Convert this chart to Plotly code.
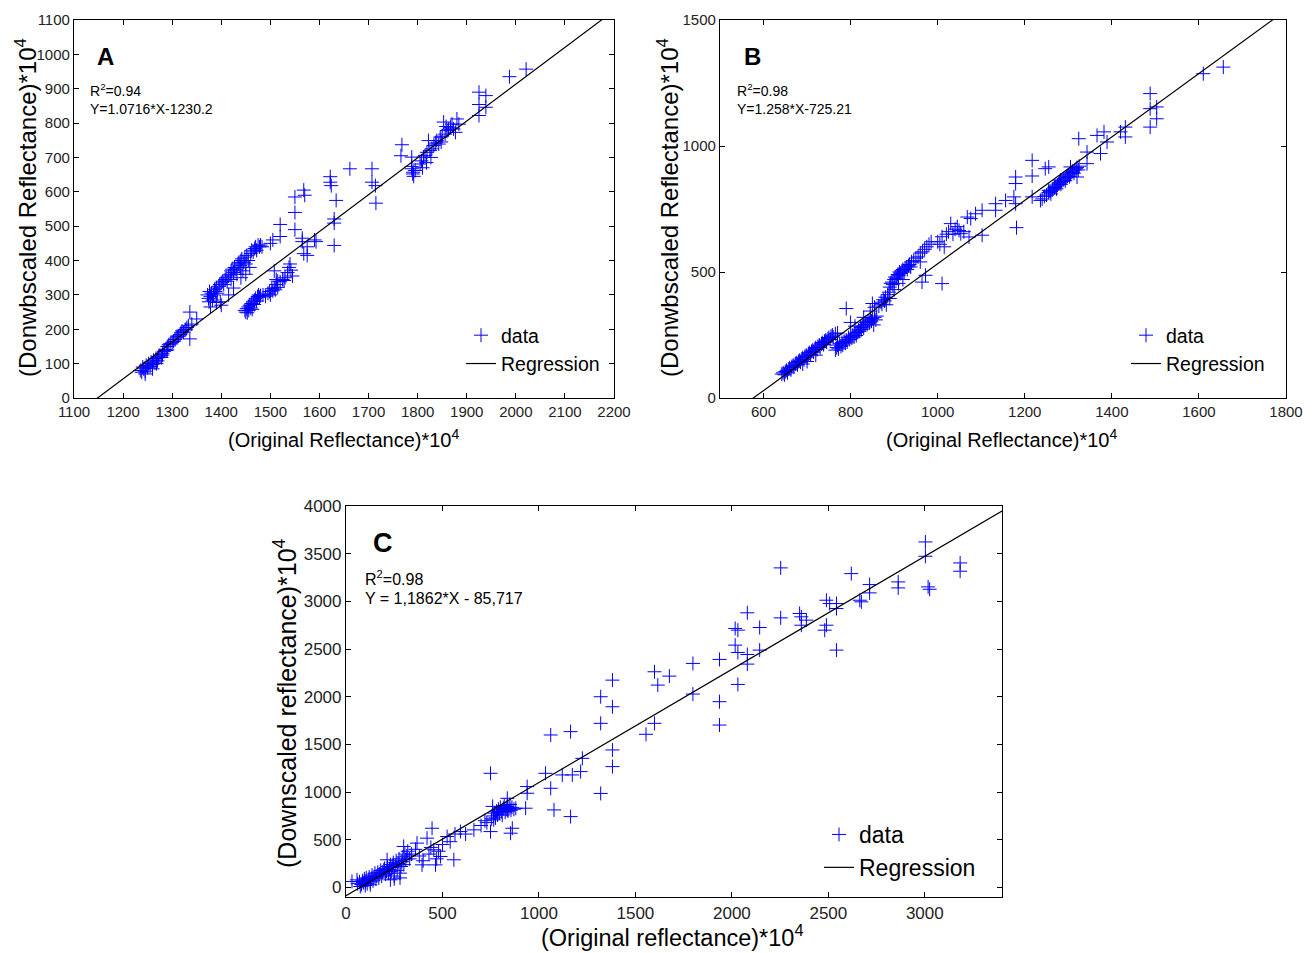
import plotly.graph_objects as go
import numpy as np

W, H = 1314, 953

# ---------------- data ----------------
# Panel A: (Original, Downscaled) reflectance *1e4
a_points = [
    (1235, 80), (1238, 75), (1240, 90), (1242, 85), (1245, 78), (1247, 95), (1250, 88), (1252, 100),
    (1255, 92), (1257, 105), (1260, 98), (1262, 110), (1265, 102), (1267, 115), (1270, 108), (1272, 120),
    (1275, 125), (1278, 118), (1280, 130), (1283, 135), (1285, 140), (1288, 138), (1290, 150), (1293, 155),
    (1296, 158), (1300, 162), (1303, 165), (1306, 170), (1310, 175), (1313, 180), (1316, 185), (1318, 190),
    (1320, 195), (1323, 192), (1326, 198), (1328, 200), (1330, 205), (1333, 210), (1336, 250), (1336, 172),
    (1340, 215), (1350, 230), (1245, 70), (1260, 85), (1280, 125), (1268, 100), (1290, 140), (1310, 180),
    (1372, 300), (1374, 290), (1375, 280), (1376, 310), (1378, 295), (1380, 305), (1382, 285), (1384, 300),
    (1386, 315), (1388, 310), (1390, 320), (1392, 305), (1395, 325), (1397, 330), (1400, 335), (1398, 280),
    (1400, 270), (1403, 340), (1405, 330), (1408, 345), (1410, 350), (1412, 340), (1415, 355), (1418, 360),
    (1420, 370), (1420, 345), (1422, 375), (1425, 365), (1425, 320), (1427, 380), (1430, 375), (1432, 360),
    (1434, 390), (1436, 395), (1438, 385), (1440, 400), (1440, 380), (1442, 405), (1444, 370), (1446, 395),
    (1448, 410), (1450, 390), (1450, 360), (1452, 415), (1455, 400), (1458, 380), (1460, 420), (1462, 430),
    (1465, 425), (1468, 435), (1470, 440), (1472, 430), (1475, 445), (1478, 440), (1480, 445), (1483, 440),
    (1378, 265), (1390, 278), (1415, 300), (1440, 350),
    (1448, 255), (1450, 250), (1452, 260), (1453, 248), (1455, 265), (1456, 255), (1458, 270), (1460, 262),
    (1462, 275), (1463, 258), (1465, 280), (1467, 272), (1468, 285), (1470, 290), (1472, 282), (1474, 295),
    (1476, 300), (1478, 293), (1480, 298), (1485, 300), (1490, 296), (1495, 305), (1498, 310), (1500, 300),
    (1503, 318), (1505, 312), (1508, 320), (1510, 315), (1512, 330), (1515, 322), (1515, 340), (1520, 338),
    (1525, 345), (1530, 350), (1535, 365), (1538, 380), (1540, 390), (1542, 372), (1545, 355), (1528, 342),
    (1508, 370), (1512, 345),
    (1500, 450), (1505, 460), (1520, 505), (1520, 470), (1550, 585), (1550, 540), (1550, 490), (1568, 605),
    (1570, 590), (1565, 465), (1568, 420), (1575, 440), (1575, 415), (1590, 460), (1593, 455), (1565, 455),
    (1622, 644), (1622, 628), (1624, 618), (1634, 575), (1630, 521), (1630, 509), (1630, 444), (1662, 667),
    (1707, 667), (1707, 628), (1714, 618), (1715, 567), (1768, 737), (1766, 705), (1788, 701), (1788, 667),
    (1791, 657), (1790, 652), (1788, 674), (1795, 662), (1792, 645),
    (1805, 681), (1812, 701), (1819, 715), (1822, 749), (1829, 725), (1833, 735), (1839, 749), (1843, 739),
    (1846, 759), (1853, 803), (1856, 768), (1860, 778), (1867, 788), (1870, 797), (1873, 783), (1880, 812),
    (1884, 797), (1877, 773), (1808, 690), (1815, 706), (1825, 720), (1836, 742), (1850, 762), (1863, 782),
    (1810, 670), (1818, 685), (1827, 700), (1848, 745), (1858, 790),
    (1925, 890), (1925, 854), (1925, 822), (1939, 880), (1939, 846), (1987, 935), (2021, 957),
]

# Panel B
b_points = [
    (642, 95), (645, 100), (648, 92), (650, 105), (653, 110), (655, 100), (658, 115), (660, 120),
    (663, 112), (665, 125), (668, 130), (670, 122), (673, 135), (675, 140), (678, 132), (680, 145),
    (683, 150), (685, 142), (688, 155), (690, 160), (693, 152), (695, 165), (698, 170), (700, 162),
    (703, 175), (705, 180), (708, 172), (710, 185), (713, 190), (715, 182), (718, 195), (720, 200),
    (723, 192), (725, 205), (728, 210), (730, 200), (733, 215), (735, 220), (738, 212), (740, 225),
    (743, 230), (745, 222), (748, 235), (750, 240), (753, 232), (755, 245), (758, 250), (760, 242),
    (765, 255), (770, 258), (700, 145), (720, 170), (690, 135),
    (765, 190), (768, 200), (770, 210), (772, 195), (775, 215), (778, 205), (780, 220), (782, 210),
    (785, 225), (788, 218), (790, 230), (792, 222), (795, 240), (798, 232), (800, 245), (803, 238),
    (805, 250), (808, 242), (810, 255), (813, 248), (815, 260), (818, 270), (820, 265), (823, 280),
    (825, 272), (828, 285), (830, 278), (833, 290), (835, 300), (838, 292), (840, 305), (843, 298),
    (845, 310), (848, 305), (850, 315), (853, 290), (855, 320), (858, 310), (860, 325), (790, 355),
    (800, 300), (810, 285), (830, 320), (845, 345), (850, 375), (855, 360),
    (865, 365), (870, 380), (872, 372), (875, 390), (878, 385), (880, 400), (882, 370), (885, 410),
    (888, 420), (890, 440), (892, 455), (895, 460), (897, 450), (900, 470), (902, 480), (905, 475),
    (908, 490), (910, 485), (912, 500), (915, 495), (918, 505), (920, 510), (923, 500), (925, 515),
    (928, 520), (930, 510), (933, 525), (935, 530), (938, 520), (940, 540), (945, 545), (950, 555),
    (955, 560), (960, 575), (965, 580), (970, 590), (975, 600), (980, 610), (985, 620), (890, 395),
    (900, 430), (910, 455), (920, 470), (960, 540), (964, 460), (972, 487), (1010, 454), (1000, 620),
    (1005, 610),
    (1010, 640), (1015, 600), (1020, 650), (1025, 660), (1030, 692), (1035, 650), (1040, 670), (1045, 680),
    (1049, 665), (1053, 652), (1060, 660), (1068, 718), (1072, 639), (1076, 712), (1087, 731), (1102, 646),
    (1102, 745), (1133, 771), (1133, 745), (1156, 784), (1175, 798), (1179, 877), (1179, 851), (1179, 771),
    (1181, 676), (1217, 943), (1217, 881), (1217, 798), (1247, 910), (1255, 917), (1236, 784), (1255, 824),
    (1282, 864), (1305, 917), (1324, 1029), (1320, 877), (1343, 976), (1343, 930), (1366, 1042),
    (1382, 1056), (1374, 970), (1389, 1016), (1420, 1056), (1431, 1075), (1431, 1036), (1488, 1208),
    (1488, 1148), (1488, 1075), (1503, 1155), (1503, 1108), (1610, 1287), (1656, 1313),
    (1240, 790), (1245, 800), (1250, 805), (1255, 815), (1258, 820), (1260, 810), (1263, 825), (1265, 830),
    (1268, 835), (1270, 840), (1273, 830), (1275, 845), (1278, 850), (1280, 855), (1283, 848), (1285, 860),
    (1288, 865), (1290, 870), (1293, 862), (1295, 875), (1298, 880), (1300, 885), (1303, 878), (1305, 890),
    (1308, 895), (1310, 900), (1313, 892), (1315, 905), (1318, 910), (1320, 915), (1323, 905), (1325, 920),
]

# Panel C
c_points = [
    (31, 63), (57, 80), (60, 40), (70, 60), (74, 10), (80, 30), (85, 70), (90, 50), (95, 90), (100, 20),
    (100, 60), (105, 100), (110, 40), (115, 80), (120, 110), (125, 60), (126, 28), (130, 90), (135, 130),
    (140, 70), (145, 110), (150, 150), (155, 90), (160, 120), (165, 160), (170, 100), (175, 140), (180, 180),
    (185, 120), (190, 160), (196, 185), (200, 200), (205, 140), (210, 170), (213, 290), (215, 220), (220, 150),
    (225, 190), (230, 240), (235, 170), (240, 210), (245, 260), (250, 120), (255, 230), (260, 280), (265, 180),
    (270, 250), (275, 300), (280, 100), (285, 220), (290, 270), (295, 320), (300, 240), (305, 350), (310, 290),
    (315, 330), (320, 380), (299, 430), (280, 150), (250, 90), (230, 80), (330, 300), (340, 350), (360, 400),
    (368, 465), (380, 330), (394, 237), (400, 280), (420, 517), (430, 350), (440, 420), (446, 621), (455, 395),
    (464, 237), (470, 300), (480, 380), (490, 325), (500, 450), (524, 534), (540, 480), (559, 290), (565, 560),
    (593, 586), (620, 560), (663, 604), (700, 650), (720, 700), (730, 680), (749, 586), (749, 1197), (755, 720),
    (760, 850), (765, 750), (766, 709), (770, 780), (775, 730), (780, 800), (785, 760), (790, 820), (795, 780),
    (800, 840), (805, 800), (810, 760), (815, 830), (820, 860), (825, 790), (830, 820), (835, 850), (836, 813),
    (840, 800), (845, 830), (850, 870), (853, 569), (855, 810), (860, 840), (862, 621), (836, 935), (870, 820),
    (880, 830), (931, 831), (939, 988), (939, 1058), (1034, 1197), (1061, 1599), (1061, 1040), (1078, 813),
    (1121, 1180), (1164, 1634), (1164, 743), (1173, 1180), (1216, 1215), (1225, 1354), (1320, 2000),
    (1320, 1721), (1320, 986), (1381, 2174), (1381, 1895), (1381, 1442), (1381, 1267),
    (1555, 1606), (1599, 1721), (1599, 2262), (1616, 2122), (1676, 2216), (1798, 2349), (1798, 2028),
    (1936, 2391), (1936, 1948), (1936, 1703), (2017, 2716), (2031, 2698), (2017, 2541), (2031, 2464),
    (2031, 2129), (2080, 2880), (2080, 2443), (2080, 2342), (2144, 2726), (2144, 2489), (2253, 3351),
    (2253, 2827), (2351, 2873), (2360, 2838), (2360, 2750), (2386, 2803), (2481, 2698), (2490, 2750),
    (2490, 3012), (2507, 2977), (2542, 2977), (2542, 2925), (2542, 2489), (2619, 3291), (2663, 3012),
    (2671, 2995), (2714, 3176), (2714, 3089), (2862, 3204), (2862, 3141), (3003, 3623), (3003, 3473),
    (3017, 3152), (3025, 3127), (3183, 3403), (3183, 3316),
]

# regression (slope, intercept) as printed on the chart
reg_a = (1.0716, -1230.2)
reg_b = (1.258, -725.21)
reg_c = (1.1862, -85.717)

labels = ["A", "B", "C"]
stat_text_a = ["R<sup>2</sup>=0.94", "Y=1.0716*X-1230.2"]
stat_text_b = ["R<sup>2</sup>=0.98", "Y=1.258*X-725.21"]
stat_text_c = ["R<sup>2</sup>=0.98", "Y = 1,1862*X - 85,717"]

xrange_a, yrange_a = [1100, 2200], [0, 1100]
xrange_b, yrange_b = [500, 1800], [0, 1500]
xrange_c, yrange_c = [0, 3400], [-100, 4000]

# ---------------- layout helpers ----------------
def px(x):
    return x / W

def py(y):
    return 1 - y / H

SANS = "Liberation Sans, Arial"

fig = go.Figure()

panels = [
    dict(pts=a_points, reg=reg_a, xr=xrange_a, yr=yrange_a, xa="x", ya="y", leg="legend",
         dom_x=[px(74), px(614)], dom_y=[py(398), py(20)]),
    dict(pts=b_points, reg=reg_b, xr=xrange_b, yr=yrange_b, xa="x2", ya="y2", leg="legend2",
         dom_x=[px(720), px(1286)], dom_y=[py(398), py(20)]),
    dict(pts=c_points, reg=reg_c, xr=xrange_c, yr=yrange_c, xa="x3", ya="y3", leg="legend3",
         dom_x=[px(346), px(1002)], dom_y=[py(897), py(506)]),
]

for p in panels:
    xs = [q[0] for q in p["pts"]]
    ys = [q[1] for q in p["pts"]]
    fig.add_trace(go.Scatter(
        x=xs, y=ys, mode="markers", name="data", xaxis=p["xa"], yaxis=p["ya"], legend=p["leg"],
        marker=dict(symbol="cross-thin", size=10, color="#0000FF",
                    line=dict(color="#0000FF", width=1)),
    ))
    m, c = p["reg"]
    lx = np.array(p["xr"], dtype=float)
    fig.add_trace(go.Scatter(
        x=lx, y=m * lx + c, mode="lines", name="Regression", xaxis=p["xa"], yaxis=p["ya"],
        legend=p["leg"], line=dict(color="black", width=1.2),
    ))

def axis(domain, rng, anchor, dtick, tick0, fontsize):
    return dict(domain=domain, range=rng, anchor=anchor, dtick=dtick, tick0=tick0, automargin=False,
                showgrid=False, zeroline=False, showline=True, linecolor="black", linewidth=1.2,
                mirror="ticks", ticks="inside", ticklen=5, tickcolor="black", tickwidth=1,
                tickfont=dict(family=SANS, size=fontsize, color="#222222"))

fig.update_layout(
    width=W, height=H, margin=dict(l=0, r=0, t=0, b=0, autoexpand=False),
    paper_bgcolor="white", plot_bgcolor="white",
    xaxis=axis(panels[0]["dom_x"], xrange_a, "y", 100, 1100, 15),
    yaxis=axis(panels[0]["dom_y"], yrange_a, "x", 100, 0, 15),
    xaxis2=axis(panels[1]["dom_x"], xrange_b, "y2", 200, 600, 15),
    yaxis2=axis(panels[1]["dom_y"], yrange_b, "x2", 500, 0, 15),
    xaxis3=axis(panels[2]["dom_x"], xrange_c, "y3", 500, 0, 17),
    yaxis3=axis(panels[2]["dom_y"], yrange_c, "x3", 500, 0, 17),
)

leg_common = dict(bgcolor="rgba(0,0,0,0)", borderwidth=0, tracegroupgap=0,
                  xanchor="left", yanchor="top", itemwidth=30)
fig.update_layout(
    legend=dict(x=px(461), y=py(316), font=dict(family=SANS, size=19.5, color="black"), **leg_common),
    legend2=dict(x=px(1126), y=py(316), font=dict(family=SANS, size=19.5, color="black"), **leg_common),
    legend3=dict(x=px(819), y=py(813), font=dict(family=SANS, size=23, color="black"), **leg_common),
)

ann = []
def text(x, y, s, size, angle=0, bold=False, xanchor="center"):
    if bold:
        s = "<b>" + s + "</b>"
    ann.append(dict(x=px(x), y=py(y), xref="paper", yref="paper", text=s, showarrow=False,
                    textangle=angle, xanchor=xanchor, yanchor="middle",
                    font=dict(family=SANS, size=size, color="black")))

# panel letters
text(105, 56, labels[0], 24, bold=True)
text(752, 56, labels[1], 24, bold=True)
text(383, 543, labels[2], 27, bold=True)

# statistics
text(88, 90, stat_text_a[0], 14, xanchor="left")
text(88, 109, stat_text_a[1], 14, xanchor="left")
text(735, 90, stat_text_b[0], 14, xanchor="left")
text(735, 109, stat_text_b[1], 14, xanchor="left")
text(363, 578, stat_text_c[0], 16, xanchor="left")
text(363, 598, stat_text_c[1], 16, xanchor="left")

# axis titles
text(343, 439, "(Original Reflectance)*10<sup>4</sup>", 20)
text(1001, 439, "(Original Reflectance)*10<sup>4</sup>", 20)
text(672, 936, "(Original reflectance)*10<sup>4</sup>", 23.5)
text(26, 208, "(Donwbscaled Reflectance)*10<sup>4</sup>", 24, angle=-90)
text(668, 208, "(Donwbscaled Reflectance)*10<sup>4</sup>", 24, angle=-90)
text(285, 703, "(Downscaled reflectance)*10<sup>4</sup>", 25, angle=-90)

fig.update_layout(annotations=ann)

fig.write_html("out.html")
